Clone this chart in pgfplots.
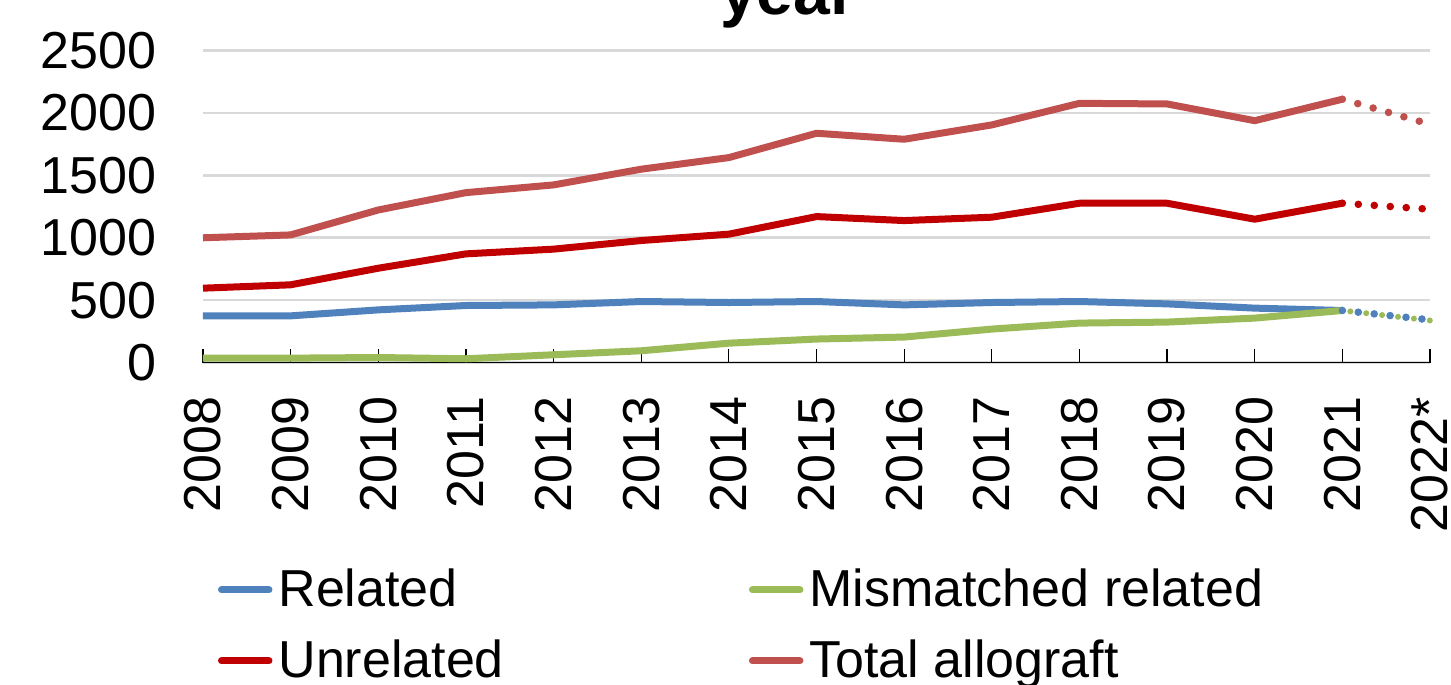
\documentclass[border=0pt]{standalone}
\usepackage{fontspec}
\setmainfont{Liberation Sans}
\usepackage{pgfplots}
\pgfplotsset{compat=1.18}
\definecolor{rel}{HTML}{4F81BD}
\definecolor{mis}{HTML}{9BBB59}
\definecolor{unrel}{HTML}{C00000}
\definecolor{tot}{HTML}{C0504D}
\definecolor{gridc}{HTML}{D9D9D9}
\newcommand\lgs{\rule[-11pt]{0pt}{36pt}}

\begin{document}
\begin{tikzpicture}
  \begin{axis}[
      at={(0,0)}, anchor=south west,
      scale only axis,
      width=613.5pt, height=155.9pt,
      xmin=0, xmax=14,
      ymin=0, ymax=2500,
      ytick={0,500,...,2500},
      xtick={0,...,14},
      xticklabels={2008,2009,2010,2011,2012,2013,2014,2015,2016,2017,2018,2019,2020,2021,2022*},
      axis x line*=bottom,
      axis y line*=left,
      y axis line style={draw=none},
      x axis line style={black, line width=0.6pt, -},
      tick align=inside,
      major tick length=7pt,
      xtick style={black, line width=0.6pt},
      ytick style={draw=none},
      ymajorgrids,
      grid style={gridc, line width=1.3pt},
      font=\fontsize{26}{31}\selectfont,
      /pgf/number format/assume math mode=true,
      /pgf/number format/set thousands separator={},
      yticklabel style={anchor=east, inner sep=0pt, xshift=-23pt},
      xticklabel style={rotate=90, anchor=east, inner sep=0pt, xshift=-17pt},
      clip=false,
      legend columns=2,
      legend cell align=left,
      legend style={at={(axis description cs:0.0122,-0.622)}, anchor=north west,
        draw=none, fill=none, inner sep=0pt, outer sep=0pt, row sep=9pt,
        nodes={inner sep=0pt},
        /tikz/every odd column/.append style={column sep=3pt},
        /tikz/every even column/.append style={column sep=122.5pt}},
      legend image code/.code={\draw[#1, line width=3.5pt, line cap=round] (1.75pt,-3.5pt) -- (25.5pt,-3.5pt);},
      every axis plot/.append style={line width=3.5pt, line join=round},
    ]

    % legend entries
    \addlegendimage{rel}
    \addlegendentry{\lgs Related}
    \addlegendimage{mis}
    \addlegendentry{\lgs Mismatched related}
    \addlegendimage{unrel}
    \addlegendentry{\lgs Unrelated}
    \addlegendimage{tot}
    \addlegendentry{\lgs Total allograft}

    % solid parts 2008-2021
    \addplot[rel, forget plot] coordinates {
      (0,374) (1,374) (2,422) (3,457) (4,462) (5,489) (6,481)
      (7,489) (8,462) (9,481) (10,489) (11,470) (12,436) (13,417)};
    \addplot[mis, forget plot] coordinates {
      (0,35) (1,35) (2,40) (3,30) (4,62) (5,94) (6,155)
      (7,188) (8,204) (9,268) (10,316) (11,324) (12,356) (13,417)};
    \addplot[unrel, forget plot] coordinates {
      (0,596) (1,623) (2,756) (3,871) (4,909) (5,978) (6,1029)
      (7,1170) (8,1138) (9,1165) (10,1277) (11,1277) (12,1149) (13,1277)};
    \addplot[tot, forget plot] coordinates {
      (0,1000) (1,1023) (2,1223) (3,1362) (4,1424) (5,1550) (6,1643)
      (7,1838) (8,1790) (9,1905) (10,2078) (11,2073) (12,1939) (13,2111)};

    % estimate 2022*, dotted
    \addplot[rel, forget plot, line width=3.8pt, line cap=round, dash pattern=on 0pt off 8pt] coordinates {(13,417) (14,342)};
    \addplot[mis, forget plot, line width=3pt, line cap=round, dash pattern=on 0pt off 8pt, dash phase=4pt] coordinates {(13,417) (14,337)};
    \addplot[unrel, forget plot, line width=3.8pt, line cap=round, dash pattern=on 0pt off 8pt] coordinates {(13,1277) (14,1229)};
    \addplot[tot, forget plot, line width=3.8pt, line cap=round, dash pattern=on 0pt off 8pt] coordinates {(13,2111) (14,1910)};
  \end{axis}
  \node[anchor=base, font=\fontsize{33}{38}\selectfont\bfseries, inner sep=0pt] at (292.5pt,173.75pt) {year};
  \pgfresetboundingbox
  \path[use as bounding box] (-101.5pt,-161.25pt) rectangle (624pt,181.25pt);
\end{tikzpicture}
\end{document}
